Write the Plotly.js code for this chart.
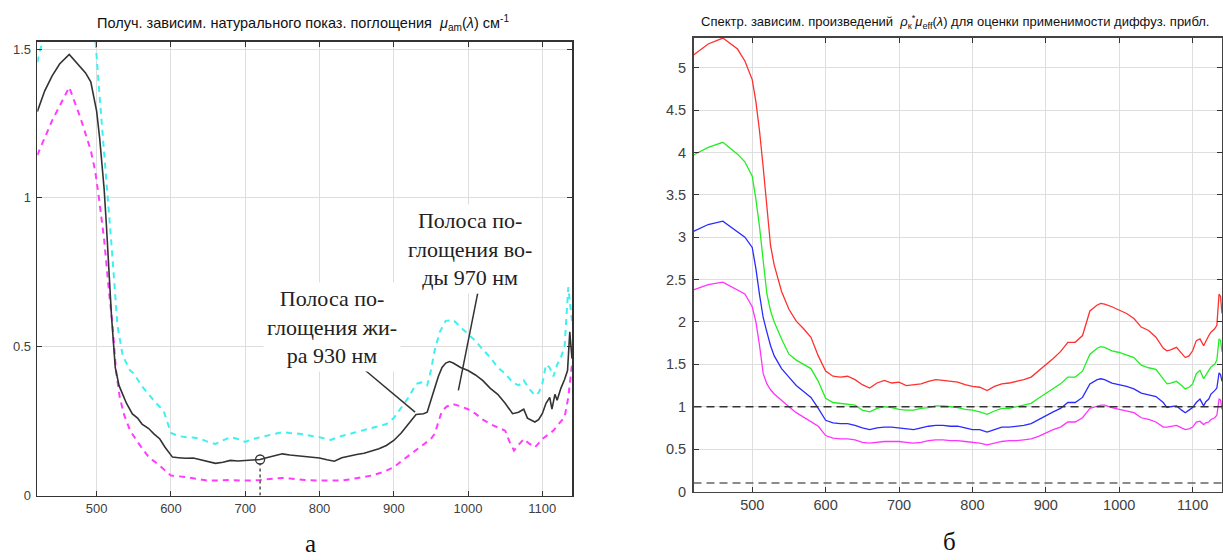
<!DOCTYPE html>
<html>
<head>
<meta charset="utf-8">
<script src="https://cdn.plot.ly/plotly-3.0.1.min.js"></script>
<style>html,body{margin:0;padding:0;background:#fff;}#chart{width:1223px;height:560px;}</style>
</head>
<body>
<div id="chart"></div>
<script>
// ---------- Left chart (а): absorption coefficient ----------
const blackX = [420,430,440,450,463,475,485,492,500,504,507,510,513,516,520,525,530,535,540,548,555,561,570,577,585,592,597,602,610,620,630,640,650,660,670,680,690,700,710,720,730,740,750,760,770,780,790,800,810,820,830,840,850,860,870,880,890,900,910,920,930,940,945,950,955,960,965,970,975,980,990,1000,1010,1020,1030,1040,1050,1060,1068,1075,1080,1090,1095,1100,1105,1110,1113,1117,1120,1125,1130,1134,1137,1140];
const blackY = [1.29,1.36,1.41,1.45,1.482,1.45,1.42,1.39,1.29,1.20,1.12,1.03,0.91,0.77,0.6,0.43,0.37,0.34,0.31,0.274,0.26,0.24,0.225,0.207,0.19,0.162,0.145,0.129,0.127,0.125,0.126,0.12,0.112,0.108,0.112,0.118,0.116,0.117,0.119,0.121,0.128,0.133,0.14,0.136,0.134,0.13,0.128,0.126,0.12,0.115,0.127,0.133,0.138,0.142,0.15,0.157,0.168,0.185,0.21,0.24,0.272,0.275,0.28,0.32,0.36,0.40,0.43,0.445,0.45,0.445,0.43,0.42,0.405,0.386,0.36,0.34,0.31,0.275,0.28,0.29,0.26,0.247,0.255,0.275,0.31,0.33,0.29,0.34,0.32,0.36,0.39,0.42,0.55,0.46];

const cyanX = [420,424,430,440,465,490,498,503,506,510,515,520,528,535,545,550,560,570,580,590,600,610,620,630,640,650,660,670,680,690,700,710,720,730,740,750,760,775,790,800,815,830,845,860,875,890,900,910,920,930,937,945,950,955,962,970,980,990,1000,1010,1020,1030,1040,1050,1060,1068,1075,1082,1090,1095,1100,1105,1110,1115,1120,1125,1130,1135,1140];
const cyanY = [1.456,1.50,1.56,1.62,1.68,1.62,1.54,1.37,1.28,1.16,1.0,0.84,0.57,0.47,0.42,0.41,0.37,0.34,0.31,0.285,0.21,0.2,0.196,0.195,0.19,0.18,0.173,0.185,0.196,0.19,0.18,0.19,0.196,0.2,0.208,0.213,0.21,0.207,0.2,0.196,0.187,0.2,0.21,0.22,0.23,0.24,0.26,0.296,0.33,0.375,0.38,0.37,0.42,0.487,0.55,0.587,0.59,0.565,0.542,0.52,0.49,0.464,0.43,0.41,0.38,0.37,0.387,0.36,0.336,0.345,0.375,0.44,0.43,0.40,0.44,0.464,0.5,0.70,0.587];

const magLX = [420,440,463,478,492,498,503,510,516,521,526,531,537,545,555,570,585,600,620,640,650,660,680,700,720,740,750,760,780,800,815,830,850,870,885,900,910,920,930,940,950,955,960,965,972,980,990,1000,1010,1020,1030,1040,1050,1056,1062,1068,1075,1082,1090,1095,1100,1108,1115,1122,1130,1135,1140];
const magLY = [1.144,1.26,1.372,1.27,1.16,1.09,1.0,0.86,0.70,0.58,0.42,0.33,0.27,0.218,0.18,0.129,0.1,0.067,0.062,0.055,0.05,0.05,0.052,0.05,0.052,0.057,0.059,0.057,0.052,0.05,0.049,0.05,0.058,0.067,0.078,0.095,0.115,0.134,0.155,0.173,0.19,0.207,0.245,0.285,0.3,0.307,0.3,0.29,0.275,0.255,0.24,0.23,0.218,0.18,0.151,0.17,0.19,0.175,0.162,0.175,0.19,0.205,0.218,0.24,0.263,0.33,0.44];

const markerPoint = {x: 720, y: 0.121};
const leftXTicks = [500,600,700,800,900,1000,1100];
const leftYTicks = [0,0.5,1,1.5];
const leftYLabels = ['0','0.5','1','1.5'];

// ---------- Right chart (б): products rho*mu_eff ----------
const wl = [420,440,460,480,490,500,505,510,515,520,525,530,540,550,560,570,580,590,600,610,620,630,640,650,660,670,680,690,700,710,720,730,740,750,760,770,780,790,800,810,820,830,840,850,860,870,880,890,900,910,920,930,940,950,960,970,975,980,990,1000,1010,1020,1030,1040,1050,1060,1065,1070,1078,1085,1090,1095,1100,1105,1110,1115,1118,1122,1125,1130,1133,1136,1138,1140];
const redY = [5.15,5.28,5.35,5.22,5.08,4.86,4.6,4.25,3.82,3.35,2.9,2.67,2.36,2.15,2.01,1.92,1.82,1.6,1.42,1.36,1.35,1.36,1.32,1.26,1.22,1.28,1.31,1.28,1.29,1.25,1.26,1.27,1.3,1.32,1.31,1.3,1.29,1.26,1.24,1.23,1.19,1.24,1.27,1.28,1.3,1.32,1.35,1.42,1.5,1.57,1.65,1.76,1.76,1.84,2.13,2.2,2.22,2.21,2.18,2.14,2.1,2.04,1.94,1.9,1.82,1.69,1.66,1.67,1.7,1.63,1.58,1.6,1.66,1.78,1.8,1.72,1.78,1.84,1.88,1.92,1.96,2.33,2.3,2.1];
const greenY = [3.97,4.06,4.12,3.98,3.89,3.72,3.45,3.12,2.72,2.33,2.13,2.0,1.8,1.62,1.55,1.5,1.45,1.3,1.1,1.05,1.04,1.03,1.02,0.96,0.94,0.98,1.0,0.99,0.97,0.96,0.96,0.98,0.99,1.01,1.01,1.0,0.99,0.97,0.96,0.94,0.91,0.95,0.98,0.98,1.0,1.02,1.04,1.1,1.16,1.21,1.27,1.35,1.35,1.42,1.62,1.69,1.71,1.7,1.66,1.64,1.61,1.58,1.49,1.46,1.44,1.33,1.27,1.28,1.3,1.25,1.21,1.23,1.27,1.39,1.43,1.33,1.38,1.43,1.47,1.5,1.55,1.8,1.78,1.65];
const blueY = [3.07,3.15,3.19,3.07,3.0,2.88,2.63,2.32,2.05,1.88,1.72,1.6,1.45,1.35,1.25,1.18,1.11,0.98,0.84,0.81,0.8,0.8,0.78,0.75,0.73,0.75,0.76,0.76,0.75,0.74,0.73,0.75,0.77,0.78,0.78,0.77,0.77,0.75,0.73,0.73,0.7,0.73,0.76,0.76,0.77,0.78,0.8,0.85,0.9,0.94,0.98,1.05,1.05,1.11,1.27,1.32,1.33,1.32,1.28,1.26,1.24,1.21,1.16,1.14,1.12,1.05,0.99,1.0,1.01,0.96,0.93,0.96,0.99,1.05,1.09,1.01,1.06,1.09,1.15,1.19,1.22,1.4,1.38,1.3];
const magentaY = [2.38,2.44,2.47,2.38,2.33,2.18,2.0,1.72,1.39,1.27,1.2,1.15,1.07,1.0,0.93,0.88,0.83,0.77,0.66,0.63,0.62,0.62,0.61,0.58,0.57,0.58,0.59,0.59,0.59,0.58,0.57,0.58,0.6,0.61,0.61,0.6,0.6,0.59,0.58,0.57,0.55,0.57,0.59,0.6,0.6,0.61,0.62,0.65,0.69,0.73,0.76,0.82,0.82,0.87,0.98,1.01,1.02,1.02,0.99,0.97,0.95,0.93,0.87,0.85,0.82,0.76,0.76,0.77,0.78,0.75,0.73,0.74,0.76,0.82,0.83,0.79,0.81,0.82,0.85,0.87,0.9,1.09,1.08,0.97];
const thresholds = [1, 0.1];
const rightXTicks = [500,600,700,800,900,1000,1100];
const rightYTicks = [0,0.5,1,1.5,2,2.5,3,3.5,4,4.5,5];
const rightYLabels = ['0','0.5','1','1.5','2','2.5','3','3.5','4','4.5','5'];

const titleLeft = 'Получ. зависим. натурального показ. поглощения  <i>μ</i><sub>am</sub>(<i>λ</i>) см<sup>-1</sup>';
const titleRight = 'Спектр. зависим. произведений  <i>ρ</i><sub>к</sub><sup>*</sup><i>μ</i><sub>eff</sub>(<i>λ</i>) для оценки применимости диффуз. прибл.';
const noteWater = 'Полоса по-<br>глощения во-<br>ды 970 нм';
const noteFat = 'Полоса по-<br>глощения жи-<br>ра 930 нм';

// ---------- Build ----------
const W = 1223, H = 560;
const px = v => v / W, py = v => 1 - v / H;
const sans = 'Liberation Sans, Arial, sans-serif';
const serif = 'Liberation Serif, Times New Roman, serif';

const traces = [
  {x: cyanX, y: cyanY, xaxis:'x', yaxis:'y', mode:'lines', line:{color:'#3ff0f0', width:2, dash:'6px,5px'}},
  {x: magLX, y: magLY, xaxis:'x', yaxis:'y', mode:'lines', line:{color:'#ff3cff', width:2, dash:'6px,5px'}},
  {x: blackX, y: blackY, xaxis:'x', yaxis:'y', mode:'lines', line:{color:'#333333', width:1.6}},
  {x: [markerPoint.x], y: [markerPoint.y], xaxis:'x', yaxis:'y', mode:'markers', marker:{symbol:'circle-open', size:9, color:'#333', line:{width:1.3, color:'#333'}}},
  {x: wl, y: redY, xaxis:'x2', yaxis:'y2', mode:'lines', line:{color:'#ff3030', width:1.3}},
  {x: wl, y: greenY, xaxis:'x2', yaxis:'y2', mode:'lines', line:{color:'#22ee22', width:1.3}},
  {x: wl, y: blueY, xaxis:'x2', yaxis:'y2', mode:'lines', line:{color:'#2b2bff', width:1.3}},
  {x: wl, y: magentaY, xaxis:'x2', yaxis:'y2', mode:'lines', line:{color:'#ff33ff', width:1.3}}
];

const axCommon = {
  showline:true, mirror:'ticks', linecolor:'#333', linewidth:1.6,
  ticks:'inside', ticklen:5, tickcolor:'#333', tickwidth:1,
  showgrid:true, gridcolor:'#dedede', gridwidth:1, zeroline:false,
  tickfont:{family:sans, size:13, color:'#404040'}
};

const layout = {
  width: W, height: H, margin:{l:0,r:0,t:0,b:0},
  paper_bgcolor:'#fff', plot_bgcolor:'#fff', showlegend:false,
  xaxis: Object.assign({}, axCommon, {domain:[px(37.3), px(572)], range:[420,1140], tickvals:leftXTicks, anchor:'y'}),
  yaxis: Object.assign({}, axCommon, {domain:[py(495.5), py(41.7)], range:[0,1.525], tickvals:leftYTicks, ticktext:leftYLabels, anchor:'x', ticklabelstandoff:2}),
  xaxis2: Object.assign({}, axCommon, {domain:[px(693.5), px(1222)], range:[420,1140], tickvals:rightXTicks, anchor:'y2', linecolor:'#444', linewidth:1.4, tickfont:{family:sans, size:14.5, color:'#404040'}}),
  yaxis2: Object.assign({}, axCommon, {domain:[py(491.5), py(37.7)], range:[0,5.354], tickvals:rightYTicks, ticktext:rightYLabels, anchor:'x2', linecolor:'#444', linewidth:1.4, tickfont:{family:sans, size:14.5, color:'#404040'}, ticklabelstandoff:3}),
  shapes: [
    {type:'line', xref:'x', yref:'y', x0:markerPoint.x, x1:markerPoint.x, y0:0, y1:markerPoint.y-0.014, line:{color:'#333', width:1.3, dash:'3px,3px'}},
    {type:'line', xref:'x', yref:'y', x0:1013, y0:0.679, x1:987, y1:0.353, line:{color:'#333', width:1.5}},
    {type:'line', xref:'x', yref:'y', x0:859, y0:0.426, x1:928.7, y1:0.28, line:{color:'#333', width:1.5}},
    {type:'line', xref:'x2', yref:'y2', x0:420, x1:1140, y0:thresholds[0], y1:thresholds[0], line:{color:'#333', width:1.6, dash:'8px,5px'}},
    {type:'line', xref:'x2', yref:'y2', x0:420, x1:1140, y0:thresholds[1], y1:thresholds[1], line:{color:'#666', width:1.4, dash:'8px,5px'}}
  ],
  annotations: [
    {xref:'paper', yref:'paper', x:px(303), y:py(23), text:titleLeft, showarrow:false, xanchor:'center', yanchor:'middle', font:{family:sans, size:14.5, color:'#111'}},
    {xref:'paper', yref:'paper', x:px(955), y:py(22), text:titleRight, showarrow:false, xanchor:'center', yanchor:'middle', font:{family:sans, size:13, color:'#111'}},
    {xref:'x', yref:'y', x:1003, y:0.828, text:noteWater, showarrow:false, align:'center', bgcolor:'#fff', borderpad:3, font:{family:serif, size:22, color:'#222'}},
    {xref:'x', yref:'y', x:817, y:0.565, text:noteFat, showarrow:false, align:'center', bgcolor:'#fff', borderpad:3, font:{family:serif, size:22, color:'#222'}},
    {xref:'paper', yref:'paper', x:px(310), y:py(543), text:'а', showarrow:false, xanchor:'center', yanchor:'middle', font:{family:serif, size:25, color:'#111'}},
    {xref:'paper', yref:'paper', x:px(949), y:py(541), text:'б', showarrow:false, xanchor:'center', yanchor:'middle', font:{family:serif, size:25, color:'#111'}}
  ]
};

Plotly.newPlot('chart', traces, layout, {staticPlot:true, displayModeBar:false});
</script>
</body>
</html>
